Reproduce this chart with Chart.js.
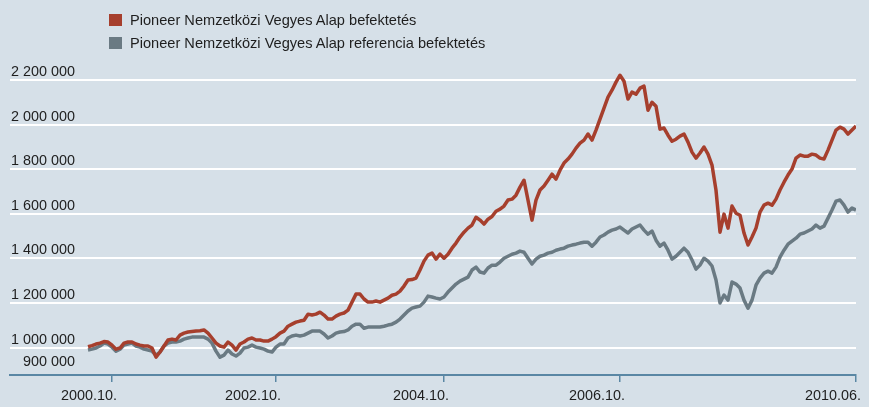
<!DOCTYPE html>
<html>
<head>
<meta charset="utf-8">
<script src="https://cdn.jsdelivr.net/npm/chart.js@4.4.1/dist/chart.umd.min.js"></script>
<style>
  body { margin: 0; background: #d6e0e8; }
  #wrap { position: relative; width: 869px; height: 407px; background: #d6e0e8; }
  #legend { position: absolute; left: 109px; top: 11px; font: 14.6px "Liberation Sans", Arial, sans-serif; color: #1e1e1e; }
  #legend div { height: 23px; line-height: 18px; white-space: nowrap; }
  #legend span.box { display: inline-block; width: 13px; height: 12px; margin-right: 8px; vertical-align: -1px; }
</style>
</head>
<body>
<div id="wrap">
  <canvas id="chart" width="869" height="407"></canvas>
  <div id="legend"></div>
</div>
<script>
// fund value path, in thousand Ft, one sample every 4 chart pixels
const fundValues = [
  1004, 1009, 1016, 1020, 1027, 1025, 1011, 993, 998, 1020,
  1025, 1025, 1016, 1011, 1007, 1007, 998, 957, 980, 1007,
  1034, 1038, 1034, 1056, 1065, 1070, 1072, 1074, 1076, 1079,
  1065, 1043, 1020, 1007, 1002, 1025, 1011, 989, 1016, 1025,
  1038, 1043, 1034, 1034, 1029, 1029, 1038, 1049, 1065, 1074,
  1096, 1105, 1114, 1119, 1123, 1150, 1146, 1150, 1159, 1146,
  1128, 1128, 1141, 1150, 1155, 1168, 1204, 1240, 1240, 1218,
  1204, 1204, 1209, 1204, 1213, 1222, 1235, 1240, 1253, 1276,
  1303, 1305, 1312, 1348, 1388, 1415, 1424, 1397, 1419, 1401,
  1419, 1446, 1469, 1496, 1518, 1536, 1550, 1585, 1572, 1554,
  1576, 1588, 1612, 1621, 1635, 1662, 1666, 1684, 1720, 1751,
  1662, 1572, 1662, 1707, 1725, 1751, 1778, 1756, 1796, 1828,
  1846, 1868, 1895, 1917, 1931, 1958, 1931, 1976, 2025, 2074,
  2124, 2155, 2191, 2222, 2195, 2115, 2146, 2137, 2164, 2173,
  2065, 2101, 2083, 1980, 1985, 1953, 1926, 1935, 1949, 1958,
  1922, 1877, 1850, 1873, 1900, 1868, 1819, 1706, 1518, 1599,
  1536, 1635, 1603, 1594, 1514, 1460, 1496, 1536, 1608, 1639,
  1648, 1639, 1666, 1707, 1742, 1774, 1801, 1850, 1864, 1859,
  1859, 1868, 1864, 1850, 1846, 1886, 1931, 1976, 1989, 1980,
  1958, 1976, 1994
];

// benchmark (referencia) path, same sampling
const benchValues = [
  989, 993, 998, 1007, 1020, 1016, 1002, 984, 993, 1011,
  1016, 1020, 1007, 1002, 993, 989, 984, 966, 980, 1007,
  1020, 1025, 1025, 1029, 1038, 1043, 1047, 1047, 1047, 1047,
  1038, 1020, 984, 957, 966, 989, 971, 962, 975, 998,
  1002, 1011, 1002, 998, 993, 984, 980, 1002, 1016, 1016,
  1043, 1052, 1056, 1052, 1056, 1065, 1074, 1074, 1074, 1061,
  1043, 1052, 1065, 1070, 1072, 1079, 1096, 1105, 1105, 1087,
  1092, 1092, 1092, 1092, 1096, 1101, 1105, 1114, 1128, 1146,
  1164, 1177, 1182, 1186, 1204, 1231, 1227, 1222, 1218, 1227,
  1249, 1267, 1285, 1298, 1307, 1316, 1348, 1361, 1339, 1334,
  1357, 1370, 1370, 1384, 1401, 1410, 1419, 1424, 1433, 1428,
  1401, 1375, 1397, 1410, 1415, 1424, 1428, 1437, 1442, 1446,
  1455, 1460, 1464, 1469, 1473, 1473, 1455, 1473, 1496, 1505,
  1518, 1527, 1532, 1541, 1527, 1514, 1532, 1541, 1550, 1527,
  1509, 1523, 1482, 1455, 1469, 1437, 1397, 1410, 1428, 1446,
  1428, 1393, 1352, 1370, 1401, 1388, 1366, 1303, 1200, 1236,
  1213, 1294, 1285, 1267, 1213, 1177, 1213, 1280, 1312, 1334,
  1343, 1334, 1361, 1406, 1437, 1464, 1478, 1491, 1509, 1514,
  1523, 1532, 1550, 1536, 1545, 1581, 1617, 1657, 1662, 1639,
  1608, 1626, 1617
];

const seriesNames = [
  'Pioneer Nemzetközi Vegyes Alap befektetés',
  'Pioneer Nemzetközi Vegyes Alap referencia befektetés'
];
const seriesColors = ['#a63f2d', '#6a7a83'];

const xTickIndex = [6, 47, 89, 133, 192];
const xTickLabels = ['2000.10.', '2002.10.', '2004.10.', '2006.10.', '2010.06.'];
const yTickValues = [900000, 1000000, 1200000, 1400000, 1600000, 1800000, 2000000, 2200000];

const toPoints = vals => vals.map((v, i) => ({ x: i, y: v * 1000 }));
const spaced = n => String(n).replace(/\B(?=(\d{3})+(?!\d))/g, ' ');

const axisColor = '#5a87a4';
const textColor = '#1e1e1e';
const font = { family: '"Liberation Sans", Arial, sans-serif', size: 14.4 };

// html legend, two rows like the original
const legendEl = document.getElementById('legend');
seriesNames.forEach((name, i) => {
    const row = document.createElement('div');
    row.innerHTML = '<span class="box" style="background:' + seriesColors[i] + '"></span>' + name;
    legendEl.appendChild(row);
});

new Chart(document.getElementById('chart'), {
    type: 'line',
    data: {
        datasets: [
            { label: seriesNames[0], data: toPoints(fundValues), borderColor: seriesColors[0] },
            { label: seriesNames[1], data: toPoints(benchValues), borderColor: seriesColors[1] }
        ]
    },
    options: {
        responsive: false,
        animation: false,
        devicePixelRatio: 1,
        layout: { padding: { top: 69, left: 10, right: 13, bottom: 0 } },
        elements: {
            point: { radius: 0 },
            line: { borderWidth: 3.5, tension: 0, borderJoinStyle: 'round', fill: false }
        },
        plugins: {
            legend: { display: false },
            tooltip: { enabled: false }
        },
        scales: {
            x: {
                type: 'linear',
                min: -19.5,
                max: 192,
                afterBuildTicks: s => { s.ticks = xTickIndex.map(v => ({ value: v })); },
                afterFit: s => { s.height = 32; s.paddingLeft = 0; s.paddingRight = 0; },
                grid: { drawOnChartArea: false, drawTicks: true, tickLength: 7, color: axisColor, lineWidth: 1.5 },
                border: { display: true, color: axisColor, width: 2 },
                ticks: {
                    autoSkip: false,
                    maxRotation: 0,
                    align: 'end',
                    labelOffset: 5,
                    padding: 5,
                    color: textColor,
                    font: font,
                    callback: v => xTickLabels[xTickIndex.indexOf(v)]
                }
            },
            y: {
                min: 877000,
                max: 2250000,
                afterBuildTicks: s => { s.ticks = yTickValues.map(v => ({ value: v })); },
                afterFit: s => { s.width = 0; s.paddingTop = 0; s.paddingBottom = 0; },
                grid: {
                    drawTicks: false,
                    lineWidth: 2,
                    color: c => c.tick && c.tick.value === 900000 ? 'rgba(0,0,0,0)' : '#ffffff'
                },
                border: { display: false },
                ticks: {
                    mirror: true,
                    crossAlign: 'far',
                    padding: 1,
                    labelOffset: -8,
                    color: textColor,
                    font: font,
                    callback: v => spaced(v)
                }
            }
        }
    }
});
</script>
</body>
</html>
